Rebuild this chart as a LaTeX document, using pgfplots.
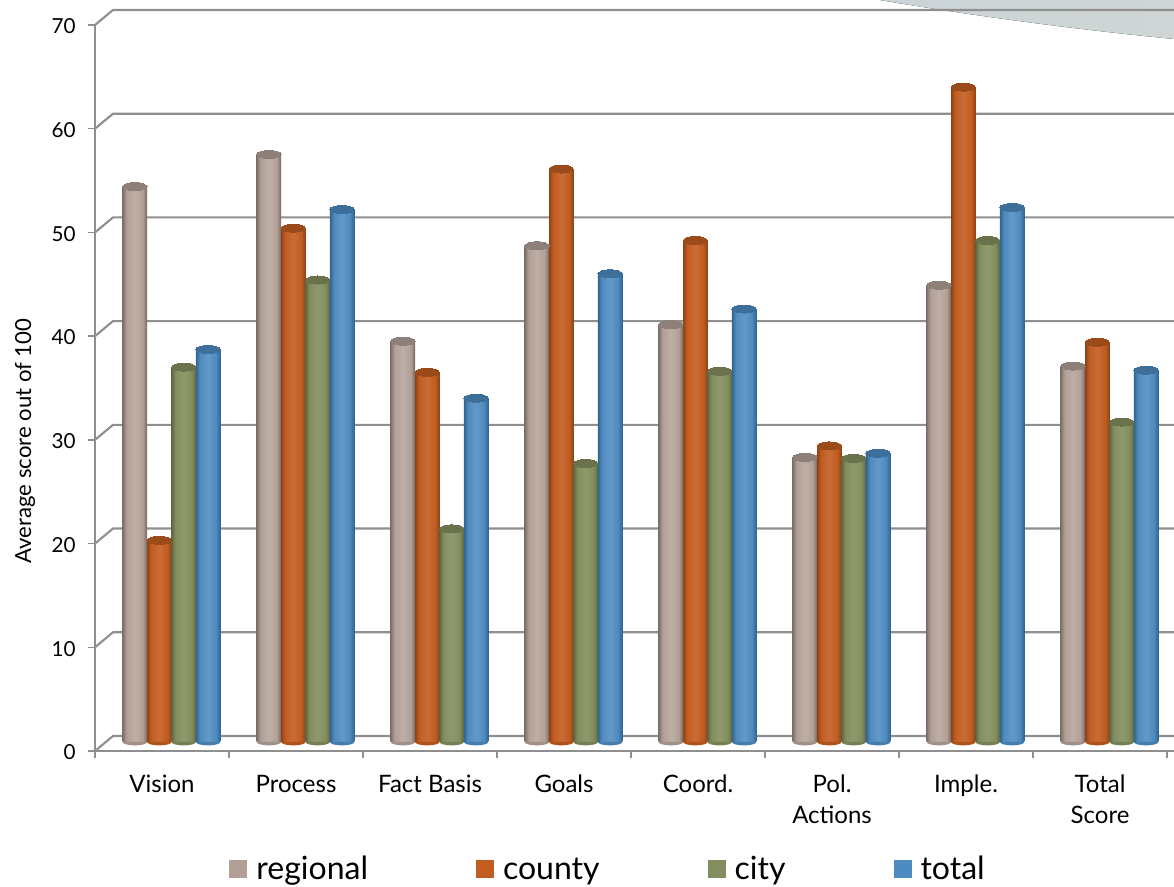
\documentclass[border=0pt]{standalone}
\usepackage{fontspec}
\setmainfont{Lato}
\usepackage{pgfplots}
\usepackage{pgfplotstable}
\pgfplotsset{compat=1.18}

\definecolor{gridc}{HTML}{8F8F8F}
\definecolor{regC}{HTML}{B2A097}
\definecolor{couC}{HTML}{C25C20}
\definecolor{citC}{HTML}{838E5E}
\definecolor{totC}{HTML}{4E8BC0}
\definecolor{regT}{HTML}{8F7F77}
\definecolor{couT}{HTML}{9E4A1A}
\definecolor{citT}{HTML}{68734A}
\definecolor{totT}{HTML}{386F9E}

% Cylinder side shadings: dark rims, lit centre
\pgfdeclarehorizontalshading{regBar}{100bp}{color(0bp)=(regT!90!black); color(25bp)=(regT!90!black); color(33bp)=(regC); color(50bp)=(regC!85!white); color(66bp)=(regC); color(75bp)=(regT!80!black); color(100bp)=(regT!80!black)}
\pgfdeclarehorizontalshading{couBar}{100bp}{color(0bp)=(couT!90!black); color(25bp)=(couT!90!black); color(33bp)=(couC); color(50bp)=(couC!90!white); color(66bp)=(couC); color(75bp)=(couT!90!black); color(100bp)=(couT!90!black)}
\pgfdeclarehorizontalshading{citBar}{100bp}{color(0bp)=(citT!90!black); color(25bp)=(citT!90!black); color(33bp)=(citC); color(50bp)=(citC!90!white); color(66bp)=(citC); color(75bp)=(citT!90!black); color(100bp)=(citT!90!black)}
\pgfdeclarehorizontalshading{totBar}{100bp}{color(0bp)=(totT!90!black); color(25bp)=(totT!90!black); color(33bp)=(totC); color(50bp)=(totC!88!white); color(66bp)=(totC); color(75bp)=(totT!90!black); color(100bp)=(totT!90!black)}

% Lower half of the cylinder's foot
\pgfdeclareplotmark{cylbase}{%
  \pgfpathmoveto{\pgfqpoint{-\pgfplotmarksize}{0pt}}%
  \pgfpatharc{180}{360}{\pgfplotmarksize and 0.28\pgfplotmarksize}%
  \pgfpathclose\pgfusepathqfill}

\pgfplotstableread{
i regional county city total
0 54.1 20.0 36.7 38.4
1 57.2 50.1 45.1 51.9
2 39.2 36.2 21.1 33.7
3 48.4 55.8 27.4 45.7
4 40.8 48.9 36.3 42.3
5 28.0 29.1 27.9 28.4
6 44.6 63.7 48.9 52.1
7 36.8 39.1 31.4 36.4
}\scores

\newcommand{\legendsq}[1]{\addlegendimage{legend image code/.code={\path[draw=none,fill=none] (0pt,0pt) rectangle (20.25pt,1pt); \fill[#1,draw=none] (0pt,1pt) rectangle (13.5pt,14.5pt);}}}

% One side of a cylinder: a path of its own, so that it gets its own shading
\newcommand{\cylside}[5]{%
  \addplot[ybar, bar shift=0pt, bar width=18.3pt, draw=none, shade, shading=#2, forget plot,
    restrict x to domain=#4:#5]
    table[x expr=\thisrow{i}+#3, y expr=\thisrow{#1}-0.55] {\scores};
}
% One cylinder series: feet, sides, top caps.
% The top of the cap stands at the value; its centre lies 0.55 below that.
\newcommand{\cyl}[4]{%
  \addplot[only marks, mark=cylbase, mark size=9.15pt, forget plot, #3,
    mark options={draw=none, fill=#3!90!black}]
    table[x expr=\thisrow{i}+#4, y expr=0] {\scores};
  \cylside{#1}{#2}{#4}{-0.45}{0.45}
  \cylside{#1}{#2}{#4}{0.55}{1.45}
  \cylside{#1}{#2}{#4}{1.55}{2.45}
  \cylside{#1}{#2}{#4}{2.55}{3.45}
  \cylside{#1}{#2}{#4}{3.55}{4.45}
  \cylside{#1}{#2}{#4}{4.55}{5.45}
  \cylside{#1}{#2}{#4}{5.55}{6.45}
  \cylside{#1}{#2}{#4}{6.55}{7.45}
  \addplot[only marks, mark=*, mark size=9.15pt, forget plot,
    mark options={draw=#3!80!black, line width=0pt, fill=#3!80!black, xscale=1, yscale=0.33}]
    table[x expr=\thisrow{i}+#4, y expr=\thisrow{#1}-0.55] {\scores};
}

\begin{document}
\begin{tikzpicture}
\useasboundingbox (0,0) rectangle (880.5pt,665.25pt);

% Decorative swoosh in the upper right corner
\definecolor{swooshA}{HTML}{CAD3D6}
\definecolor{swooshB}{HTML}{CFD6D5}
\begin{scope}[x=.75pt,y=-.75pt,yshift=665.25pt]
  \fill[left color=swooshA, right color=swooshB] (880,0) .. controls (950,12) and (1060,28) .. (1174,39) -- (1174,0) -- cycle;
\end{scope}

% Front axis, tick marks, labels and the receding wall lines
\begin{axis}[
  at={(71.25pt,102pt)}, anchor=south west, scale only axis,
  width=809.25pt, height=544.5pt,
  xmin=0, xmax=8.052, ymin=0, ymax=70,
  clip=false,
  axis x line*=bottom, axis y line*=left,
  axis line style={gridc, line width=1.6pt, -},
  tick align=outside, major tick length=5pt, minor tick length=5pt,
  every tick/.style={gridc, line width=1pt},
  xtick={0.5,1.5,...,7.5},
  minor xtick={0,1,...,8},
  major x tick style={draw=none},
  minor x tick style={draw=gridc, line width=1pt},
  xticklabels={Vision,Process,Fact Basis,Goals,Coord.,{Pol.\\Actions},Imple.,{Total\\Score}},
  xticklabel style={align=center, anchor=north, font=\fontsize{18}{23}\selectfont, yshift=-9.5pt},
  ytick={0,10,...,70},
  /pgf/number format/assume math mode=true,
  yticklabel style={font=\fontsize{15.5}{18}\selectfont, xshift=-6pt, yshift=-1pt},
  ylabel={Average score out of 100},
  every axis y label/.style={at={(axis description cs:-0.0649,0.427)}, rotate=90, anchor=center, font=\fontsize{16.6}{18}\selectfont},
]
\addplot[gridc, line width=1.6pt] coordinates {(0,0) (0.1343,1.447) (8.052,1.447)};
\addplot[gridc, line width=1.6pt] coordinates {(0,10) (0.1343,11.447) (8.052,11.447)};
\addplot[gridc, line width=1.6pt] coordinates {(0,20) (0.1343,21.447) (8.052,21.447)};
\addplot[gridc, line width=1.6pt] coordinates {(0,30) (0.1343,31.447) (8.052,31.447)};
\addplot[gridc, line width=1.6pt] coordinates {(0,40) (0.1343,41.447) (8.052,41.447)};
\addplot[gridc, line width=1.6pt] coordinates {(0,50) (0.1343,51.447) (8.052,51.447)};
\addplot[gridc, line width=1.6pt] coordinates {(0,60) (0.1343,61.447) (8.052,61.447)};
\addplot[gridc, line width=1.6pt] coordinates {(0,70) (0.1343,71.447) (8.052,71.447)};
\end{axis}

% Bars, sitting midway between the front axis and the back wall
\begin{axis}[
  at={(0pt,108.75pt)}, anchor=south west, scale only axis,
  width=880.5pt, height=556.5pt,
  xmin=-1.2799, xmax=7.4813, ymin=0, ymax=71.553,
  clip=false, hide axis,
  legend columns=4,
  legend cell align=left,
  legend style={at={(axis cs:0.43,-12.2)}, anchor=west, draw=none, fill=none, inner sep=0pt,
    font=\fontsize{24}{28}\selectfont,
    /tikz/every even column/.append style={column sep=81pt},
    nodes={inner sep=0pt, anchor=base west}},
]
\cyl{regional}{regBar}{regC}{-0.273}
\cyl{county}{couBar}{couC}{-0.091}
\cyl{city}{citBar}{citC}{0.091}
\cyl{total}{totBar}{totC}{0.273}
\legendsq{regC}\addlegendentry{regional}
\legendsq{couC}\addlegendentry{county}
\legendsq{citC}\addlegendentry{city}
\legendsq{totC}\addlegendentry{total}
\end{axis}
\end{tikzpicture}
\end{document}
